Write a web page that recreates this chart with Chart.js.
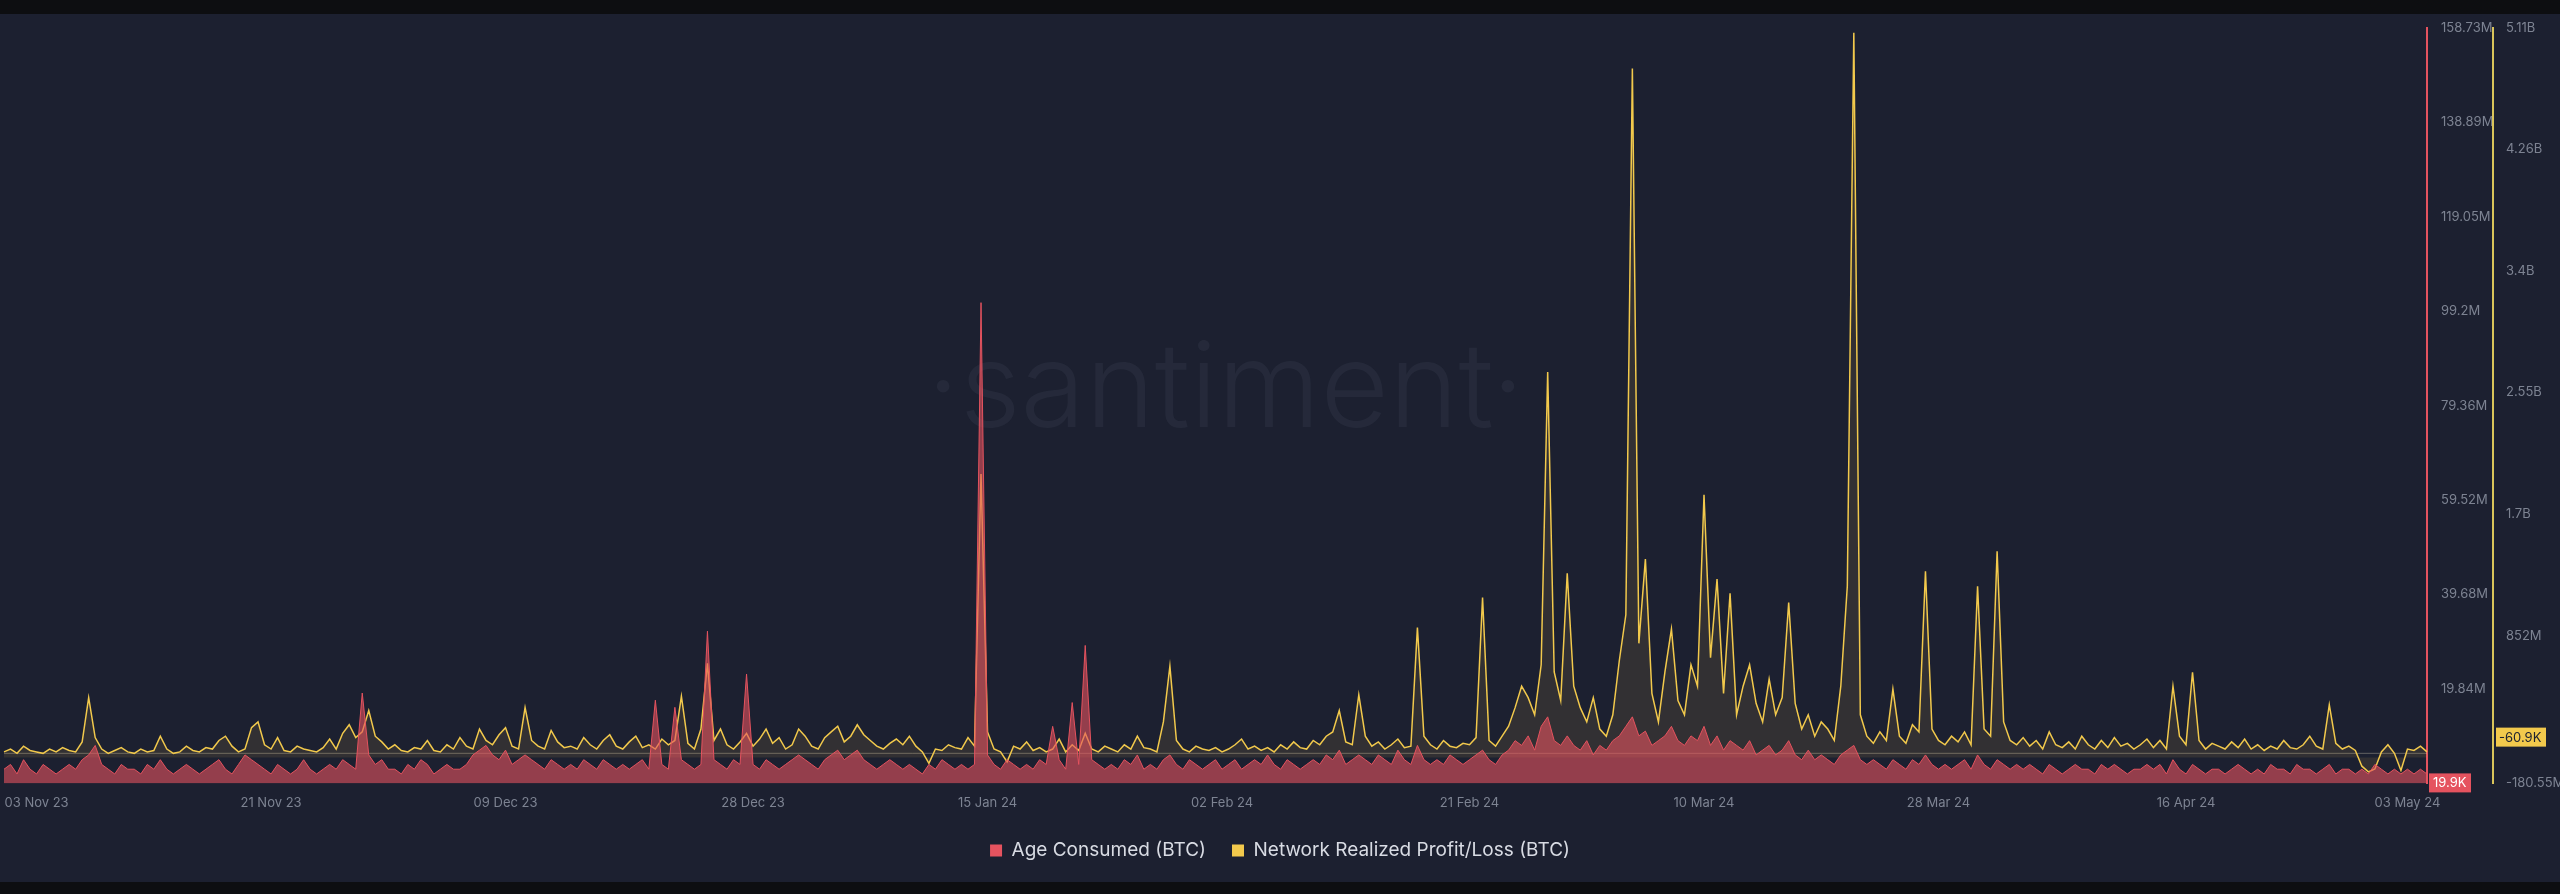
<!DOCTYPE html>
<html>
<head>
<meta charset="utf-8">
<script src="https://cdn.jsdelivr.net/npm/chart.js@4/dist/chart.umd.min.js"></script>
<style>
    html, body { margin: 0; padding: 0; background: #0d0e11; }
    #wrap { position: absolute; left: 0; top: 14px; width: 2560px; height: 868px; background: #1c2030; }
</style>
</head>
<body>
<div id="wrap"><canvas id="chart"></canvas></div>
<script>
// Network Realized Profit/Loss (BTC), millions, every 12h from 31 Oct 23 12:00
const profitLoss = [
    40,60,30,80,50,40,30,60,40,70,
    50,40,110,420,140,60,30,50,70,40,
    30,60,40,50,150,60,30,40,80,50,
    40,70,60,120,150,80,40,60,210,250,
    90,60,140,50,40,80,60,50,40,70,
    130,60,170,230,140,180,330,150,110,60,
    90,50,40,70,60,120,50,40,90,60,
    140,80,60,200,120,90,160,210,80,60,
    350,120,80,60,190,110,70,80,60,140,
    90,60,120,160,80,60,110,150,70,90,
    60,130,90,120,430,100,60,200,660,120,
    200,90,60,110,170,80,130,200,100,140,
    60,90,200,150,80,60,140,180,220,110,
    150,230,160,120,80,60,100,130,90,150,
    80,40,-40,60,50,90,70,60,140,80,
    1985,180,60,40,-30,80,60,110,50,70,
    40,60,130,40,90,50,170,60,40,80,
    60,40,90,60,150,70,60,40,250,640,
    120,60,40,80,60,50,70,40,60,90,
    130,60,80,50,70,40,90,60,110,70,
    60,120,90,150,180,330,110,90,440,150,
    80,110,60,90,130,70,80,910,150,90,
    60,120,80,70,100,90,140,1120,120,80,
    150,220,350,500,420,300,650,2700,600,400,
    1290,500,350,250,420,200,150,300,680,1000,
    4825,800,1390,450,250,600,900,400,300,650,
    500,1840,700,1250,450,1150,300,500,650,380,
    250,550,300,420,1085,380,200,300,150,250,
    200,120,500,1200,5075,300,150,100,180,120,
    480,150,100,230,180,1305,200,120,90,150,
    110,180,90,1200,200,150,1445,250,120,90,
    140,80,120,60,180,90,70,110,60,150,
    90,60,120,70,140,80,100,60,90,130,
    70,120,60,500,150,90,597,120,60,100,
    80,60,110,70,130,60,90,50,80,60,
    120,70,60,90,150,80,60,370,100,60,
    80,50,-60,-100,-80,40,90,30,-90,60,
    50,80,40
];

// Age Consumed (BTC), millions
const ageConsumed = [
    3,4,2,5,3,2,4,3,2,3,
    4,3,5,6,8,4,3,2,4,3,
    3,2,4,3,5,3,2,3,4,3,
    2,3,4,5,3,2,4,6,5,4,
    3,2,4,3,2,3,5,3,2,3,
    4,3,5,4,3,19,6,4,5,3,
    3,2,4,3,5,4,2,3,4,3,
    3,4,6,7,8,6,5,7,4,5,
    6,5,4,3,5,4,3,4,3,5,
    4,3,5,4,3,4,3,4,5,3,
    17.5,4,3,16,5,4,3,4,32,5,
    4,3,5,4,23,4,3,5,4,3,
    4,5,6,5,4,3,5,6,7,5,
    6,7,5,4,3,4,5,4,3,4,
    3,2,4,3,5,4,3,4,3,4,
    101,6,4,3,5,4,3,4,3,5,
    4,12,5,3,17,4,29,5,4,3,
    4,3,5,4,6,3,4,3,5,6,
    4,3,5,4,3,4,5,3,4,5,
    3,4,5,4,6,4,3,5,4,3,
    4,5,4,6,5,7,4,5,6,5,
    4,6,5,4,7,5,4,8,5,4,
    5,4,6,5,4,5,6,7,5,4,
    6,7,9,8,10,7,12,14,9,8,
    10,8,7,9,6,8,7,9,10,12,
    14,10,11,8,9,10,12,9,8,10,
    9,12,8,10,7,9,8,7,9,6,
    7,8,6,7,9,6,5,7,5,6,
    5,4,6,7,8,5,4,5,4,3,
    5,4,3,5,4,6,4,3,4,3,
    4,5,3,6,4,3,5,4,3,4,
    3,4,3,2,4,3,2,3,4,3,
    3,2,4,3,4,3,2,3,3,4,
    3,4,2,5,3,2,4,3,2,3,
    3,2,3,4,3,2,3,2,4,3,
    3,2,4,3,3,2,3,4,2,3,
    3,2,3,2,4,3,2,3,2,3,
    2,3,2
];

const dateTicks = ["03 Nov 23", "21 Nov 23", "09 Dec 23", "28 Dec 23", "15 Jan 24", "02 Feb 24",
    "21 Feb 24", "10 Mar 24", "28 Mar 24", "16 Apr 24", "03 May 24"];
const ageTicks = [19.84, 39.68, 59.52, 79.36, 99.2, 119.05, 138.89, 158.73];
const ageTickLabels = ["19.84M", "39.68M", "59.52M", "79.36M", "99.2M", "119.05M", "138.89M", "158.73M"];
const plTicks = [852, 1704, 2556, 3408, 4260, 5110, -180.55];
const plTickLabels = ["852M", "1.7B", "2.55B", "3.4B", "4.26B", "5.11B", "-180.55M"];

// Labels: every 12 hours
const months = ["Jan", "Feb", "Mar", "Apr", "May", "Jun", "Jul", "Aug", "Sep", "Oct", "Nov", "Dec"];
const start = Date.UTC(2023, 9, 31, 12);
const labels = profitLoss.map((v, i) => {
    const d = new Date(start + i * 12 * 3600 * 1000);
    if (d.getUTCHours() !== 0) return "";
    return String(d.getUTCDate()).padStart(2, "0") + " " + months[d.getUTCMonth()] + " " + String(d.getUTCFullYear()).slice(2);
});

const tickColor = "#7d8392";
const tickFont = { family: "Inter", size: 13 };

// Watermark, baseline + value badges
const extras = {
    id: "extras",
    beforeDatasetsDraw(chart) {
        const { ctx, chartArea } = chart;
        ctx.save();
        ctx.fillStyle = "rgba(120,128,150,0.10)";
        ctx.font = "300 118px Inter";
        ctx.textAlign = "center";
        ctx.textBaseline = "middle";
        ctx.fillText("·santiment·", (chartArea.left + chartArea.right) / 2 + 10, 378);
        const y0 = chart.scales.yPL.getPixelForValue(30);
        ctx.strokeStyle = "rgba(230,220,190,0.35)";
        ctx.lineWidth = 1;
        ctx.beginPath();
        ctx.moveTo(chartArea.left, y0);
        ctx.lineTo(chartArea.right, y0);
        ctx.stroke();
        ctx.restore();
    },
    afterDraw(chart) {
        const { ctx } = chart;
        const yA = chart.scales.yAge, yP = chart.scales.yPL;
        ctx.save();
        ctx.font = "13px Inter";
        ctx.textBaseline = "middle";
        let y = yA.getPixelForValue(0.0199);
        ctx.fillStyle = "#e5535f";
        ctx.fillRect(yA.left + 2, y - 10, 42, 19);
        ctx.fillStyle = "#ffffff";
        ctx.fillText("19.9K", yA.left + 6, y);
        y = yP.getPixelForValue(-0.0609) - 20;
        ctx.fillStyle = "#f2c94c";
        ctx.fillRect(yP.left + 3, y - 10, 50, 19);
        ctx.fillStyle = "#1c2030";
        ctx.fillText("-60.9K", yP.left + 6, y);
        ctx.restore();
    }
};

new Chart(document.getElementById("chart"), {
    type: "line",
    data: {
        labels: labels,
        datasets: [
            {
                label: "Age Consumed (BTC)",
                data: ageConsumed,
                yAxisID: "yAge",
                borderColor: "#e5535f",
                backgroundColor: "rgba(229,83,95,0.6)",
                borderWidth: 1,
                fill: "origin",
                pointRadius: 0,
                tension: 0
            },
            {
                label: "Network Realized Profit/Loss (BTC)",
                data: profitLoss,
                yAxisID: "yPL",
                borderColor: "#f2c94c",
                backgroundColor: "rgba(242,201,76,0.10)",
                borderWidth: 1.5,
                fill: "origin",
                pointRadius: 0,
                tension: 0
            }
        ]
    },
    options: {
        responsive: true,
        maintainAspectRatio: false,
        animation: false,
        layout: { padding: { top: 10, bottom: 12 } },
        scales: {
            x: {
                offset: false,
                grid: { display: false },
                border: { display: false },
                ticks: {
                    color: tickColor,
                    font: tickFont,
                    autoSkip: false,
                    maxRotation: 0,
                    padding: 4,
                    callback: (v, i) => dateTicks.includes(labels[i]) ? labels[i] : ""
                }
            },
            yAge: {
                position: "right",
                min: 0.0199,
                max: 158.73,
                grid: { display: false },
                border: { display: true, color: "#e5535f", width: 2 },
                afterBuildTicks: (s) => { s.ticks = ageTicks.map(v => ({ value: v })); },
                afterFit: (s) => { s.width = 66; },
                ticks: {
                    color: tickColor,
                    font: tickFont,
                    padding: 6,
                    callback: (v) => ageTickLabels[ageTicks.indexOf(v)]
                }
            },
            yPL: {
                position: "right",
                min: -180.55,
                max: 5110,
                grid: { display: false },
                border: { display: true, color: "#d9c45a", width: 2 },
                afterBuildTicks: (s) => { s.ticks = plTicks.map(v => ({ value: v })); },
                afterFit: (s) => { s.width = 67; },
                ticks: {
                    color: tickColor,
                    font: tickFont,
                    padding: 5,
                    callback: (v) => plTickLabels[plTicks.indexOf(v)]
                }
            }
        },
        plugins: {
            legend: {
                position: "bottom",
                labels: {
                    color: "#d8dbe3",
                    font: { family: "Inter", size: 19 },
                    boxWidth: 12,
                    boxHeight: 12,
                    padding: 26,
                    generateLabels: (chart) => chart.data.datasets.map((ds, i) => ({
                        text: ds.label,
                        fillStyle: ds.borderColor,
                        strokeStyle: ds.borderColor,
                        lineWidth: 0,
                        fontColor: "#d8dbe3",
                        datasetIndex: i
                    }))
                }
            },
            tooltip: { enabled: false }
        }
    },
    plugins: [extras]
});
</script>
</body>
</html>
